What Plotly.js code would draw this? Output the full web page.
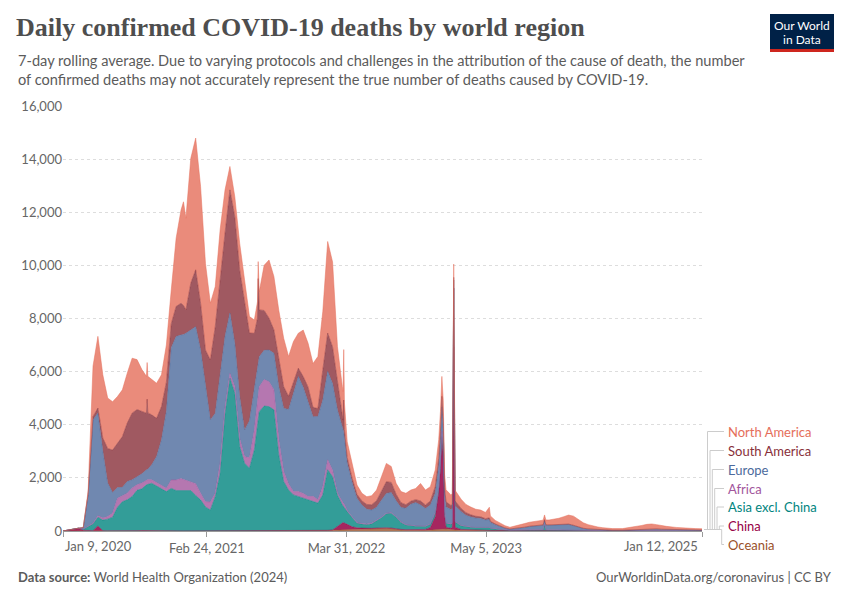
<!DOCTYPE html>
<html>
<head>
<meta charset="utf-8">
<script src="https://cdn.plot.ly/plotly-3.0.1.min.js"></script>
<style>
  html, body { margin: 0; padding: 0; background: #fff; }
  #chart { width: 850px; height: 600px; }
</style>
</head>
<body>
<div id="chart"></div>
<script>
// ---- Data (7-day rolling average of daily confirmed deaths) ----
const dates = [
  '2020-01-09','2020-01-25','2020-02-08','2020-02-22','2020-03-07','2020-03-21','2020-04-04','2020-04-18',
  '2020-05-02','2020-05-16','2020-05-30','2020-06-13','2020-06-27','2020-07-11','2020-07-25','2020-08-08',
  '2020-08-22','2020-09-04','2020-09-06','2020-09-08','2020-09-19','2020-10-03','2020-10-17','2020-10-31','2020-11-14','2020-11-28',
  '2020-12-12','2020-12-19','2020-12-26','2021-01-09','2021-01-23','2021-02-06','2021-02-20','2021-03-06',
  '2021-03-20','2021-04-03','2021-04-17','2021-05-01','2021-05-15','2021-05-29','2021-06-12','2021-06-26',
  '2021-07-10','2021-07-19','2021-07-21','2021-07-24','2021-08-07','2021-08-21','2021-09-04','2021-09-18','2021-10-02','2021-10-16',
  '2021-10-30','2021-11-13','2021-11-27','2021-12-11','2021-12-25','2022-01-08','2022-01-22','2022-02-05',
  '2022-02-19','2022-03-05','2022-03-19','2022-03-21','2022-03-23','2022-03-25','2022-04-02','2022-04-16','2022-04-30','2022-05-14','2022-05-28',
  '2022-06-11','2022-06-25','2022-07-09','2022-07-23','2022-08-06','2022-08-20','2022-09-03','2022-09-17',
  '2022-10-01','2022-10-15','2022-10-29','2022-11-12','2022-11-26','2022-12-10','2022-12-20','2022-12-25',
  '2022-12-29','2023-01-02','2023-01-06','2023-01-10','2023-01-24','2023-01-28','2023-02-01','2023-02-05',
  '2023-02-22','2023-03-08','2023-03-22','2023-04-05','2023-04-19','2023-05-03','2023-05-14','2023-05-17',
  '2023-05-31','2023-06-14','2023-06-28','2023-07-12','2023-07-26','2023-08-09','2023-08-23','2023-09-06',
  '2023-09-20','2023-10-04','2023-10-15','2023-10-19','2023-10-23','2023-11-01','2023-11-15','2023-11-29',
  '2023-12-13','2023-12-27','2024-01-10','2024-01-24','2024-02-07','2024-02-21','2024-03-06','2024-03-20',
  '2024-04-03','2024-04-17','2024-05-01','2024-05-29','2024-06-26','2024-07-24','2024-08-07','2024-08-21',
  '2024-09-04','2024-09-18','2024-10-02','2024-10-30','2024-11-27','2024-12-25','2025-01-12'
];

const oceania = [
  0,0,0,0,0,1,5,8, 5,3,1,1,1,1,5,10, 15,10,10,10,5,2,1,1,1,1, 1,1,1,1,1,1,1,1,
  1,1,1,1,1,1,1,1, 1,1,1,1,1,1,1,1,1,1, 2,2,2,3,3,5,10,20,
  30,30,40,40,40,42,50,60,60,60,70,
  80,90,100,100,90,60,40,30, 20,20,20,20,30,40,50,55, 60,65,75,80,60,50,40,40,
  30,30,25,20,20,20,20,15, 15,10,10,8,8,8,8,10, 10,10,10,10,10,10,10,10,
  10,10,10,8,6,5,5,4, 4,3,3,3,3,3,3,3, 3,3,3,3,2,2,2
];
const china = [
  0,40,90,100,30,10,5,180, 5,3,2,2,2,2,2,2, 2,2,2,2,2,2,2,2,2,2, 2,2,2,2,2,2,2,2,
  2,2,2,2,2,2,2,2, 2,2,2,2,2,2,2,2,2,2, 2,2,2,2,2,5,5,5,
  10,150,290,280,270,260,200,100,60,50,30,
  20,20,20,20,20,20,20,20, 30,30,40,40,100,500,1400,2300, 3500,2800,500,60,40,100,6900,100,
  30,20,15,10,10,10,10,8, 5,5,3,3,3,3,3,3, 3,3,3,3,3,3,3,3,
  3,3,3,2,2,2,2,2, 1,1,1,1,1,1,1,1, 1,1,1,1,1,1,1
];
const asiaExChina = [
  0,0,1,5,40,150,250,330, 400,440,515,890,1100,1170,1290,1520, 1570,1725,1730,1735,1790,1690,1600,1480,1600,1520,
  1520,1520,1520,1520,1330,1170,900,790, 1290,2170,4400,5750,5180,3175,2550,2360,
  3050,4000,4200,4490,4700,4680,4560,2860,1860,1540, 1355,1290,1250,1170,1100,1040,1340,2280,
  2000,1175,650,630,610,590,480,350,170,150,140,
  170,260,380,525,560,440,260,180, 150,130,120,110,120,150,180,190, 200,190,170,150,150,150,2200,200,
  140,110,100,100,110,100,100,80, 60,40,25,15,20,25,30,30, 30,35,35,230,35,30,30,30,
  30,30,25,20,15,12,10,8, 7,6,6,6,8,10,12,12, 10,10,8,6,5,5,5
];
const africa = [
  0,0,0,0,0,5,30,60, 80,100,150,340,230,250,320,210, 220,190,190,190,130,130,130,130,320,400,
  450,420,400,340,450,250,200,300, 130,380,250,180,250,300,250,390,
  750,880,900,940,1000,940,750,570,375,230, 125,190,160,120,200,130,315,375,
  250,65,124,115,110,100,30,30,20,20,20,
  20,20,20,20,20,15,15,10, 10,10,10,10,10,10,10,10, 10,10,10,10,10,10,10,10,
  10,10,10,5,5,5,5,5, 5,3,2,2,2,2,2,2, 2,2,2,2,2,2,2,2,
  2,2,2,2,1,1,1,1, 1,1,1,1,1,1,1,1, 1,1,1,1,1,1,1
];
const europe = [
  0,0,0,1,60,1200,3900,3860, 2520,1260,780,400,310,440,310,290, 350,380,380,390,565,980,1700,2890,4980,5400,
  5410,5450,5520,5710,5910,5395,4330,3090, 3010,3260,2670,2270,1630,1580,1000,1400,
  1510,1250,1200,1130,1100,1190,1380,2000,2380,2800, 3700,4330,4000,3520,3000,3130,3260,3325,
  3260,3140,2824,2750,2700,2500,1800,1300,920,700,560,
  500,500,640,750,760,600,550,620, 800,880,790,670,720,720,800,850, 900,800,650,600,550,550,300,600,
  520,420,380,350,330,280,300,220, 150,100,60,40,50,60,90,120, 140,160,165,165,168,170,180,190,
  200,200,160,110,70,50,40,30, 22,15,12,12,25,50,60,62, 55,45,40,30,25,22,22
];
const southAmerica = [
  0,0,0,0,0,20,120,190, 490,1300,1600,1670,1910,2200,2510,2540, 2350,2130,2650,2120,1880,1440,1250,1100,900,1130,
  1190,1100,880,1760,2140,1760,1380,2260, 3260,3770,3890,4640,4770,4770,4800,3300,
  2130,1880,3200,1760,1500,1200,880,1000,820,500, 400,315,400,600,350,300,1130,1445,
  1380,1000,376,360,1200,330,200,150,150,150,180,
  200,250,320,440,380,250,180,130, 110,110,150,130,150,250,300,350, 400,350,220,200,150,150,100,180,
  120,100,80,70,60,50,60,40, 30,20,15,10,10,12,12,15, 15,15,15,15,15,15,15,15,
  15,15,15,12,10,10,8,8, 8,8,8,8,8,10,10,10, 10,8,8,8,6,6,6
];
const northAmerica = [
  0,0,0,0,5,120,1900,2700, 2380,1900,1820,1760,1760,1880,2070,1880, 1570,1385,1380,1375,1320,1320,1200,1400,1270,2570,
  3510,3900,3450,4700,4960,4390,3260,2135, 1510,1760,1630,880,750,1000,850,620,
  500,620,640,680,1700,2190,2010,1880,1820,1500, 1550,1320,1750,1650,1650,1960,2200,3450,
  3200,1380,1130,1080,1900,1000,600,550,350,290,290,
  340,400,560,690,600,410,420,430, 420,420,660,560,540,630,700,745, 750,700,500,450,400,400,500,400,
  350,310,290,265,255,235,400,200, 135,112,85,62,87,110,135,150, 160,175,178,180,182,185,200,230,
  280,340,345,276,206,160,124,97, 82,66,59,59,94,135,163,176, 160,137,114,86,65,53,48
];

const regions = ['Oceania','China','Asia excl. China','Africa','Europe','South America','North America'];
const seriesValues = [oceania, china, asiaExChina, africa, europe, southAmerica, northAmerica];
const fillColors = ['rgb(174,116,84)','rgb(166,38,96)','rgb(51,157,152)','rgb(181,119,176)','rgb(112,136,176)','rgb(160,89,97)','rgb(234,139,123)'];
const lineColors = ['#9A5129','#970046','#00847E','#A2559C','#4C6A9C','#883039','#E56E5A'];
const labelColors = ['#9A5129','#970046','#00847E','#A2559C','#4C6A9C','#883039','#E56E5A'];

const xTickVals = ['2020-01-09','2021-02-24','2022-03-31','2023-05-05','2025-01-12'];
const xTickText = ['', 'Feb 24, 2021', 'Mar 31, 2022', 'May 5, 2023', ''];

// ---- Layout helpers (pixel -> paper) ----
const L = 63, R = 702, T = 106, B = 531;
const px = x => (x - L) / (R - L);
const py = y => (B - y) / (B - T);

const traces = regions.map((name, i) => ({
  type: 'scatter',
  mode: 'lines',
  name: name,
  x: dates,
  y: seriesValues[i],
  stackgroup: 'one',
  line: { width: 0.5, color: lineColors[i] },
  fillcolor: fillColors[i],
  hoverinfo: 'x+y+name'
}));

const font = 'Lato, "Open Sans", sans-serif';
const annotations = [];
const shapes = [];

// Subtitle
annotations.push({
  xref: 'paper', yref: 'paper', x: px(16), y: py(50), xanchor: 'left', yanchor: 'top',
  align: 'left', showarrow: false,
  text: '7-day rolling average. Due to varying protocols and challenges in the attribution of the cause of death, the number<br>of confirmed deaths may not accurately represent the true number of deaths caused by COVID-19.',
  font: { family: font, size: 14.6, color: '#5b5b5b' }
});

// First / last x tick labels (aligned to plot edges)
annotations.push({ xref: 'paper', yref: 'paper', x: px(63), y: py(546), xanchor: 'left', yanchor: 'middle',
  showarrow: false, text: 'Jan 9, 2020', font: { family: font, size: 13, color: '#666' } });
annotations.push({ xref: 'paper', yref: 'paper', x: px(700), y: py(546), xanchor: 'right', yanchor: 'middle',
  showarrow: false, text: 'Jan 12, 2025', font: { family: font, size: 13, color: '#666' } });

// Legend labels with connector lines
const labelY = [544.5, 526, 507, 488.5, 469.5, 450.5, 431.5]; // Oceania ... North America
const connX  = [721.7, 719.3, 717, 714.7, 712.3, 710, 707.5];
regions.forEach((name, i) => {
  annotations.push({
    xref: 'paper', yref: 'paper', x: px(726), y: py(labelY[i]), xanchor: 'left', yanchor: 'middle',
    showarrow: false, text: name, font: { family: font, size: 13, color: labelColors[i] }
  });
  shapes.push({ type: 'path', xref: 'paper', yref: 'paper',
    path: `M ${px(704)} ${py(529.5)} L ${px(connX[i])} ${py(529.5)} L ${px(connX[i])} ${py(labelY[i])} L ${px(724)} ${py(labelY[i])}`,
    line: { color: '#cccccc', width: 1 } });
});

// Logo
shapes.push({ type: 'rect', xref: 'paper', yref: 'paper', x0: px(770), x1: px(834), y0: py(14), y1: py(51),
  fillcolor: '#002147', line: { width: 0 } });
shapes.push({ type: 'rect', xref: 'paper', yref: 'paper', x0: px(770), x1: px(834), y0: py(49), y1: py(52),
  fillcolor: '#ce261e', line: { width: 0 } });
annotations.push({ xref: 'paper', yref: 'paper', x: px(802), y: py(25.5), xanchor: 'center', yanchor: 'middle',
  showarrow: false, text: 'Our World', font: { family: font, size: 12, color: '#ffffff' } });
annotations.push({ xref: 'paper', yref: 'paper', x: px(802), y: py(39.5), xanchor: 'center', yanchor: 'middle',
  showarrow: false, text: 'in Data', font: { family: font, size: 12, color: '#ffffff' } });

// Footer
annotations.push({ xref: 'paper', yref: 'paper', x: px(16), y: py(577), xanchor: 'left', yanchor: 'middle',
  showarrow: false, text: '<b>Data source:</b> World Health Organization (2024)', font: { family: font, size: 13, color: '#5b5b5b' } });
annotations.push({ xref: 'paper', yref: 'paper', x: px(834), y: py(577), xanchor: 'right', yanchor: 'middle',
  showarrow: false, text: 'OurWorldinData.org/coronavirus | CC BY', font: { family: font, size: 13, color: '#5b5b5b' } });

const layout = {
  width: 850, height: 600,
  margin: { l: L, r: 850 - R, t: T, b: 600 - B, pad: 0 },
  paper_bgcolor: '#ffffff', plot_bgcolor: '#ffffff',
  showlegend: false,
  title: {
    text: 'Daily confirmed COVID-19 deaths by world region',
    font: { family: '"Liberation Serif", "DejaVu Serif", serif', size: 26, color: '#4e4e4e', weight: 'bold' },
    xref: 'container', yref: 'container', x: 16 / 850, xanchor: 'left', y: 1 - 27 / 600, yanchor: 'middle'
  },
  xaxis: {
    type: 'date', range: ['2020-01-09', '2025-01-12'],
    tickmode: 'array', tickvals: xTickVals, ticktext: xTickText,
    ticks: 'outside', ticklen: 5, tickcolor: '#999', tickwidth: 1,
    showline: true, linecolor: '#999', linewidth: 1,
    showgrid: false, zeroline: false,
    tickfont: { family: font, size: 13, color: '#666' }
  },
  yaxis: {
    range: [0, 16000], tickmode: 'linear', tick0: 0, dtick: 2000, tickformat: ',',
    showgrid: true, gridcolor: '#dddddd', griddash: '3px,3px', gridwidth: 1,
    zeroline: false, showline: false, ticks: '',
    tickfont: { family: font, size: 13, color: '#666' }
  },
  annotations: annotations,
  shapes: shapes
};

Plotly.newPlot('chart', traces, layout, { staticPlot: true, displayModeBar: false });
</script>
</body>
</html>
